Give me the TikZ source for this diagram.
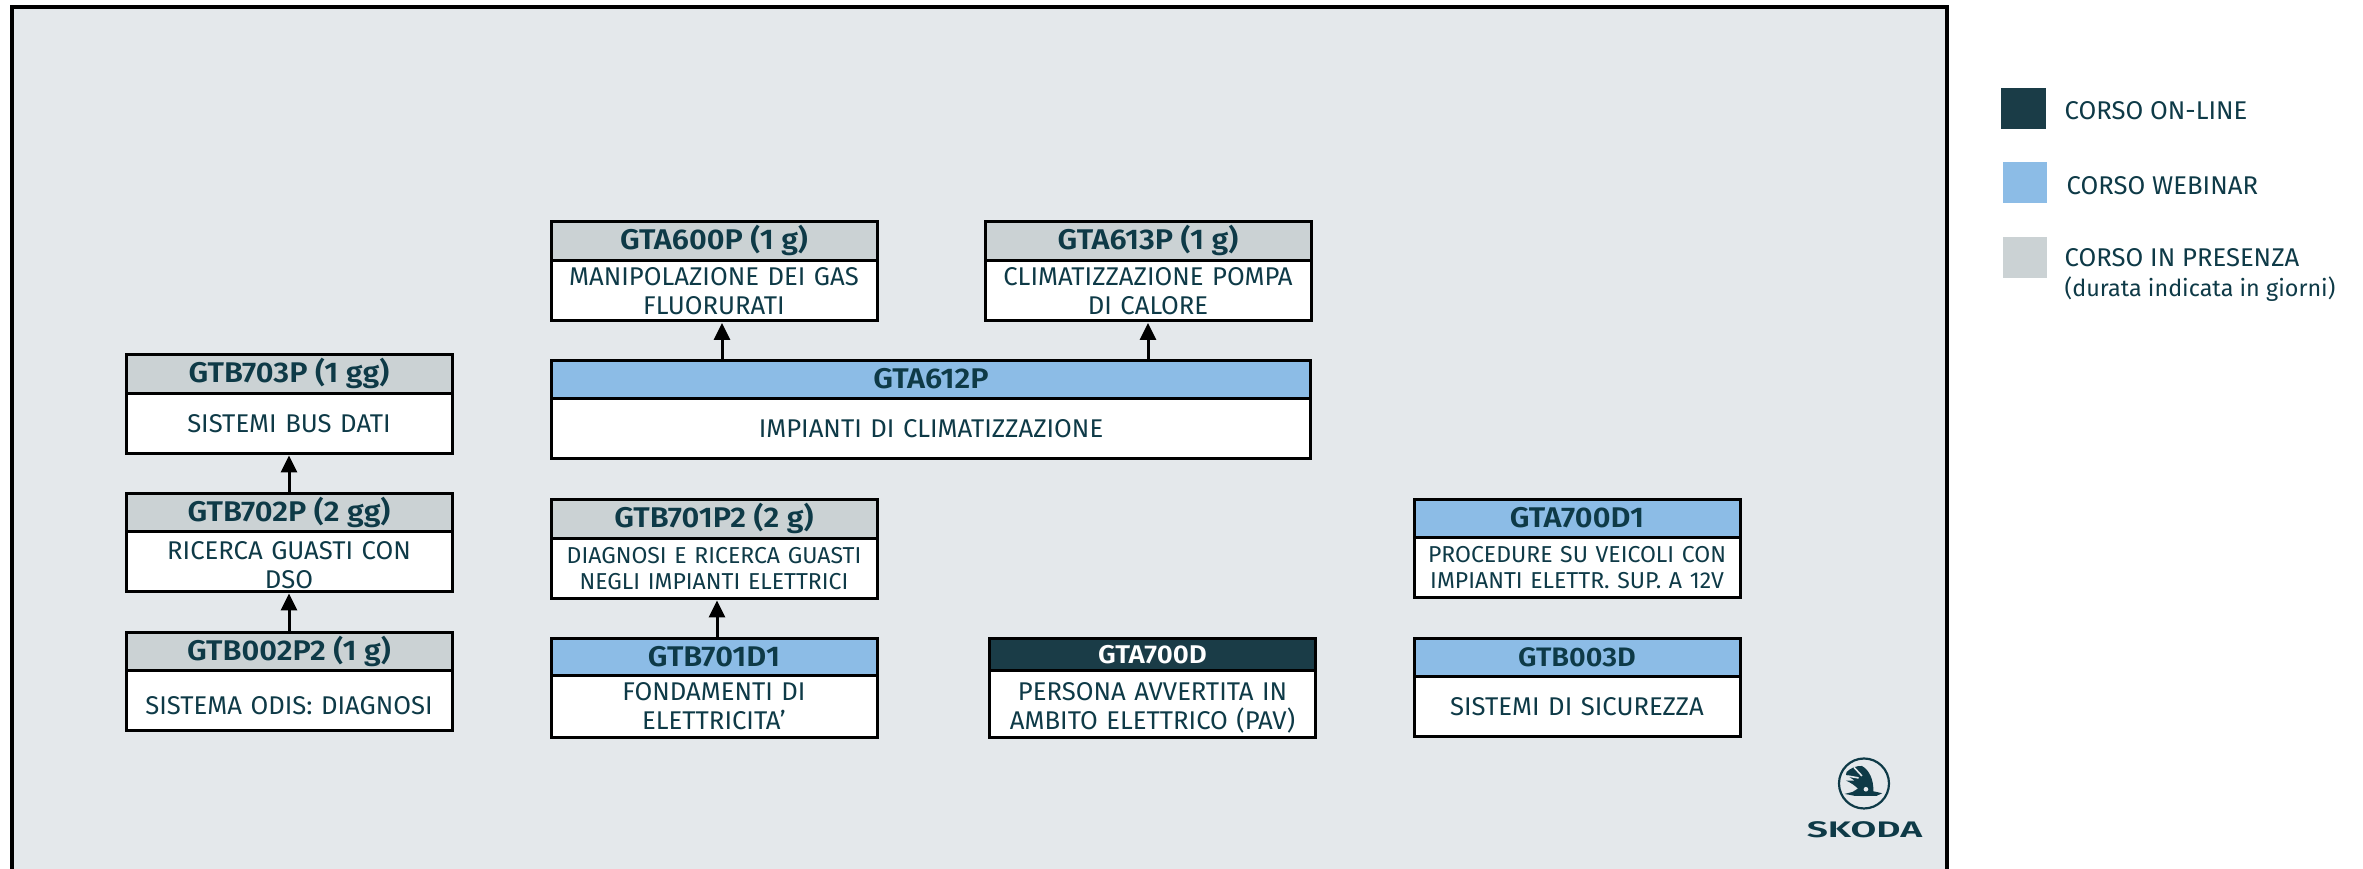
\documentclass[tikz,border=0pt]{standalone}
\usepackage{fontspec}
\setmainfont{Fira Sans}[BoldFont={Fira Sans SemiBold},BoldFeatures={FakeStretch=1.08}]
\usetikzlibrary{calc,arrows.meta}
\definecolor{framebg}{HTML}{E4E8EB}
\definecolor{ink}{HTML}{0E3A47}
\definecolor{online}{HTML}{1A3C47}
\definecolor{webinar}{HTML}{8CBCE6}
\definecolor{presenza}{HTML}{CBD2D4}
\tikzset{
	corsohead/.style={draw=black, line width=0.03cm, outer sep=0, inner sep=0, minimum width=3.26cm, minimum height=0.39cm, text=ink, text height=0.2cm, text depth=0.03cm, font=\fontsize{8.1}{9}\selectfont\bfseries},
	corsobody/.style={draw=black, fill=white, line width=0.03cm, outer sep=0, inner sep=0, minimum width=3.26cm, minimum height=0.6cm, text=ink, align=center, text width=3.24cm, font=\fontsize{7.3}{8.3}\selectfont},
	corsosmall/.style={corsobody, font=\fontsize{6.55}{7.4}\selectfont},
	arrowup/.style={line width=0.03cm, -{Triangle[length=0.17cm,width=0.16cm]}, shorten >=0.02cm},
	legendtext/.style={inner sep=0, anchor=west, text=ink, font=\fontsize{7.3}{8.3}\selectfont, align=left}
}

\begin{document}
\begin{tikzpicture}
	%%%%% FRAME %%%%%
	\clip (0, 0) rectangle (23.63, 8.69);
	\draw[fill=framebg, line width=0.035cm] (0.12, 8.62) rectangle (19.47, -0.5);

	%%%%% FIRST COLUMN %%%%%
	\node[corsohead, fill=presenza] (gtb703h) at (2.89, 4.945) {GTB703P (1 gg)};
	\node[corsobody] (gtb703b) at (2.89, 4.455) {SISTEMI BUS DATI};
	\node[corsohead, fill=presenza] (gtb702h) at (2.89, 3.56) {GTB702P (2 gg)};
	\node[corsobody, text height=0.25cm] (gtb702b) at (2.89, 3.075) {RICERCA GUASTI CON\\DSO};
	\node[corsohead, fill=presenza] (gtb002h) at (2.89, 2.17) {GTB002P2 (1 g)};
	\node[corsobody, text height=0.27cm] (gtb002b) at (2.89, 1.68) {SISTEMA ODIS: DIAGNOSI};

	%%%%% SECOND COLUMN %%%%%
	\node[corsohead, fill=presenza] (gta600h) at (7.14, 6.275) {GTA600P (1 g)};
	\node[corsobody] (gta600b) at (7.14, 5.78) {MANIPOLAZIONE DEI GAS\\FLUORURATI};
	\node[corsohead, fill=presenza] (gta613h) at (11.48, 6.275) {GTA613P (1 g)};
	\node[corsobody] (gta613b) at (11.48, 5.78) {CLIMATIZZAZIONE POMPA\\DI CALORE};
	\node[corsohead, fill=webinar, minimum width=7.59cm] (gta612h) at (9.31, 4.89) {GTA612P};
	\node[corsobody, minimum width=7.59cm, text width=7.5cm] (gta612b) at (9.31, 4.4) {IMPIANTI DI CLIMATIZZAZIONE};
	\node[corsohead, fill=presenza] (gtb701ph) at (7.14, 3.5) {GTB701P2 (2 g)};
	\node[corsosmall] (gtb701pb) at (7.14, 3.005) {DIAGNOSI E RICERCA GUASTI\\NEGLI IMPIANTI ELETTRICI};
	\node[corsohead, fill=webinar] (gtb701dh) at (7.14, 2.11) {GTB701D1};
	\node[corsobody, minimum height=0.62cm] (gtb701db) at (7.14, 1.625) {FONDAMENTI DI\\ELETTRICITA'};

	%%%%% THIRD COLUMN %%%%%
	\node[corsohead, fill=online, text=white, minimum height=0.33cm, font=\fontsize{7.3}{8}\selectfont\bfseries] (gta700h) at (11.525, 2.14) {GTA700D};
	\node[corsobody, minimum height=0.67cm, text height=0.25cm] (gta700b) at (11.525, 1.65) {PERSONA AVVERTITA IN\\AMBITO ELETTRICO (PAV)};

	%%%%% FOURTH COLUMN %%%%%
	\node[corsohead, fill=webinar] (gta701h) at (15.77, 3.495) {GTA700D1};
	\node[corsosmall] (gta701b) at (15.77, 3.01) {PROCEDURE SU VEICOLI CON\\IMPIANTI ELETTR. SUP. A 12V};
	\node[corsohead, fill=webinar, font=\fontsize{7.6}{8}\selectfont\bfseries] (gtb003h) at (15.77, 2.105) {GTB003D};
	\node[corsobody] (gtb003b) at (15.77, 1.625) {SISTEMI DI SICUREZZA};

	%%%%% ARROWS %%%%%
	\draw[arrowup] (gtb702h.north) -- (gtb703b.south);
	\draw[arrowup] (gtb002h.north) -- (gtb702b.south);
	\draw[arrowup] ([xshift=0.08cm]gta600b.south |- gta612h.north) -- ([xshift=0.08cm]gta600b.south);
	\draw[arrowup] (gta613b.south |- gta612h.north) -- (gta613b.south);
	\draw[arrowup] ([xshift=0.03cm]gtb701dh.north) -- ([xshift=0.03cm]gtb701pb.south);

	%%%%% LEGEND %%%%%
	\fill[online] (20.01, 7.81) rectangle (20.46, 7.40);
	\fill[webinar] (20.03, 7.07) rectangle (20.47, 6.66);
	\fill[presenza] (20.03, 6.32) rectangle (20.47, 5.91);
	\node[legendtext] (online) at (20.64, 7.58) {CORSO ON-LINE};
	\node[legendtext] (webinar) at (20.66, 6.83) {CORSO WEBINAR};
	\node[legendtext] (presenza) at (20.64, 5.94) {CORSO IN PRESENZA\\{\fontsize{6.65}{8.3}\selectfont(durata indicata in giorni)}};

	%%%%% LOGO %%%%%
	\draw[ink, line width=0.022cm] (18.64, 0.855) circle (0.25);
	\begin{scope}[shift={(18.30, 1.17)}, x=0.00333cm, y=-0.00333cm]
		\fill[ink] (50, 60) .. controls (62, 48) and (80, 41) .. (96, 42) .. controls (118, 54) and (132, 84) .. (130, 118) -- (157, 124) -- (140, 132) -- (75, 132) -- (44, 126) -- (68, 120) -- (84, 110) .. controls (74, 100) and (62, 92) .. (48, 86) -- (74, 86) -- (48, 68) -- cycle;
		\draw[framebg, line width=0.016cm] (52, 72) -- (86, 78);
		\draw[framebg, line width=0.016cm] (72, 46) -- (96, 72);
		\fill[framebg] (108, 112) circle (7);
	\end{scope}
	\node[inner sep=0, text=ink, xscale=1.54] (skoda) at (18.645, 0.39) {\fontsize{6.4}{7}\selectfont\bfseries SKODA};
\end{tikzpicture}
\end{document}
